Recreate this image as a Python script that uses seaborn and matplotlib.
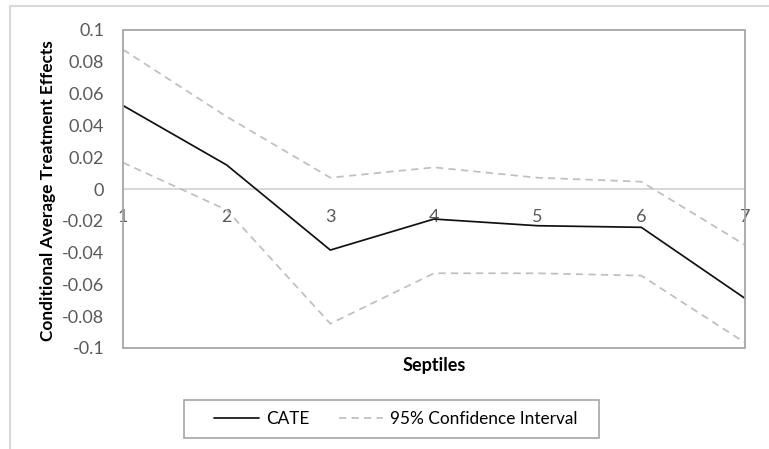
import matplotlib
matplotlib.use("Agg")
import matplotlib.pyplot as plt
from matplotlib.lines import Line2D
from matplotlib.patches import Rectangle
import numpy as np
import pandas as pd
import seaborn as sns

# Septile index and estimates
septiles = [1, 2, 3, 4, 5, 6, 7]
cate = [0.0525, 0.0151, -0.0384, -0.0189, -0.0231, -0.0241, -0.0688]
ci_upper = [0.0877, 0.0455, 0.0071, 0.0136, 0.0071, 0.0046, -0.0352]
ci_lower = [0.0166, -0.0132, -0.0847, -0.0530, -0.0530, -0.0545, -0.0967]

y_ticks = [0.1, 0.08, 0.06, 0.04, 0.02, 0, -0.02, -0.04, -0.06, -0.08, -0.1]
y_tick_labels = ["0.1", "0.08", "0.06", "0.04", "0.02", "0", "-0.02", "-0.04",
                 "-0.06", "-0.08", "-0.1"]

df = pd.DataFrame({"Septile": septiles, "CATE": cate,
                   "Upper": ci_upper, "Lower": ci_lower})

sns.set_theme(style="white")
plt.rcParams["font.family"] = ["Lato", "DejaVu Sans"]

W, H = 769, 449
fig = plt.figure(figsize=(W / 100, H / 100), dpi=100)
ax = fig.add_axes([123 / W, 1 - 348 / H, (745 - 123) / W, (348 - 30) / H])

frame_col = "#a6a6a6"
zero_col = "#d9d9d9"
grey_txt = "#595959"
ci_col = "#bfbfbf"
lw = 1.25
dash = (0, (4.2, 3.0))

sns.lineplot(data=df, x="Septile", y="Upper", ax=ax, color=ci_col, lw=lw,
             linestyle=dash, zorder=3)
sns.lineplot(data=df, x="Septile", y="Lower", ax=ax, color=ci_col, lw=lw,
             linestyle=dash, zorder=3)
sns.lineplot(data=df, x="Septile", y="CATE", ax=ax, color="#111111", lw=lw,
             zorder=4)

ax.set_xlim(1, 7)
ax.set_ylim(-0.1, 0.1)
ax.set_xlabel("")
ax.set_ylabel("")
ax.set_xticks(septiles)
ax.set_xticklabels([str(s) for s in septiles])
ax.set_yticks(y_ticks)
ax.set_yticklabels(y_tick_labels)
ax.tick_params(axis="y", length=0, pad=13.5, labelsize=13, labelcolor=grey_txt)
ax.tick_params(axis="x", direction="out", length=4.5, width=1, color=zero_col,
               pad=10, labelsize=13, labelcolor=grey_txt)

# Category axis runs through zero; plot area gets its own outline
ax.spines["bottom"].set_position(("data", 0))
ax.spines["bottom"].set_color(zero_col)
ax.spines["bottom"].set_linewidth(1.5)
ax.spines["bottom"].set_zorder(2)
for side in ("left", "right", "top"):
    ax.spines[side].set_visible(False)
ax.add_patch(Rectangle((0, 0), 1, 1, transform=ax.transAxes, fill=False,
                       edgecolor=frame_col, lw=1.3, zorder=5, clip_on=False))

fig.text(48 / W, 1 - 191 / H, "Conditional Average Treatment Effects",
         rotation=90, ha="center", va="center", fontsize=12.4,
         fontweight="bold", color="black")
fig.text(434 / W, 1 - 365 / H, "Septiles", ha="center", va="center",
         fontsize=13, fontweight="bold", color="black")

# Legend box
fig.patches.append(Rectangle((184 / W, 1 - 438 / H), (599 - 184) / W, 38 / H,
                             transform=fig.transFigure, fill=False,
                             edgecolor=frame_col, lw=1.2))
handles = [Line2D([], [], color="#111111", lw=lw),
           Line2D([], [], color=ci_col, lw=lw, linestyle=dash)]
fig.legend(handles, ["CATE", "95% Confidence Interval"], loc="center",
           bbox_to_anchor=(396 / W, 1 - 419 / H), ncol=2, frameon=False,
           fontsize=12.4, handlelength=2.6, handletextpad=0.4,
           columnspacing=1.7, labelcolor="black")

# Chart area outline
fig.add_artist(Line2D([10 / W, 1], [1 - 6 / H, 1 - 6 / H], color=zero_col,
                      lw=1.5, transform=fig.transFigure))
fig.add_artist(Line2D([10 / W, 10 / W], [0, 1 - 6 / H], color=zero_col,
                      lw=1.5, transform=fig.transFigure))

fig.savefig("out.png", dpi=100)
